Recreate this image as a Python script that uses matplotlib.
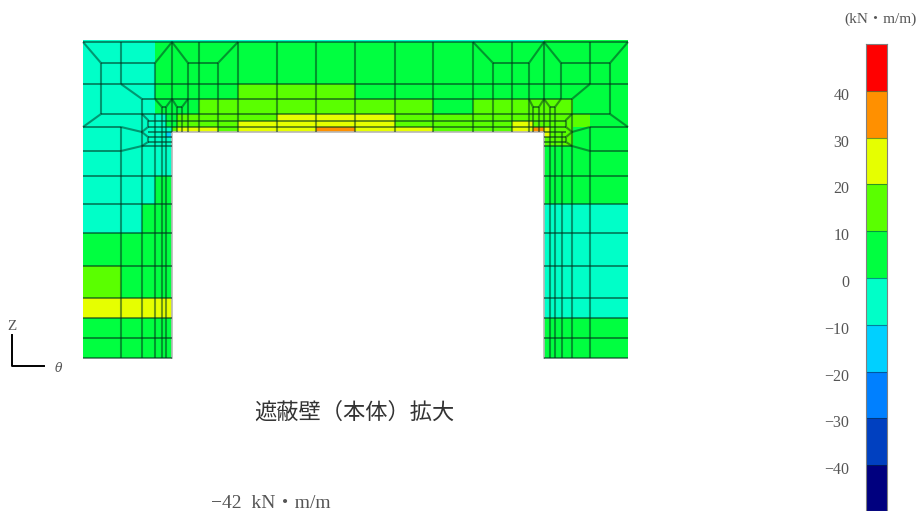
import numpy as np
import matplotlib.pyplot as plt
from matplotlib.collections import LineCollection
from matplotlib.colors import ListedColormap, BoundaryNorm
from matplotlib.transforms import ScaledTranslation

# colour bands of the moment scale (kN m/m)
levels = [-50, -40, -30, -20, -10, 0, 10, 20, 30, 40, 50]
band_colors = ['#00007f', '#0040c0', '#0080ff', '#00d0ff', '#00ffc8',
               '#00ff40', '#5aff00', '#e6ff00', '#ff9000', '#ff0000']
tick_values = [40, 30, 20, 10, 0, -10, -20, -30, -40]
code_values = {'c': -15, 'a': -5, 'g': 5, 'l': 15, 'y': 25, 'o': 35, '.': np.nan}

# mesh columns and rows, in drawing units of the wall view
x_edges = [83, 121, 142, 155, 162, 166, 172, 177, 182, 188, 199, 218, 238, 277, 316, 355,
           395, 433, 473, 493, 512, 529, 533, 539, 544, 550, 555, 562, 573, 590, 610, 628]
y_edges = [40.5, 42, 84, 99, 114, 121, 127, 132, 137, 146, 151, 176, 204, 233, 266, 298, 318, 338, 358]

cell_rows = [
    'a' * 24 + 'g' * 7,
    'aaa' + 'g' * 28,
    'aaa' + 'g' * 9 + 'lll' + 'g' * 16,
    'aaa' + 'g' * 7 + 'l' * 7 + 'g' + 'l' * 10 + 'ggg',
    'aaaaa' + 'gg' + 'l' * 6 + 'yyy' + 'l' * 13 + 'gg',
    'aaaaa' + 'gg' + 'l' * 5 + 'yyyy' + 'llll' + 'yy' + 'l' * 7 + 'gg',
    'aaaaaa' + 'l' + 'yyyy' + 'l' + 'yy' + 'o' + 'yy' + 'lll' + 'yy' + 'oo' + 'y' + 'lll' + 'ggg',
    'aaaaac' + '.' * 18 + 'y' + 'lll' + 'ggg',
    'aaaaaa' + '.' * 18 + 'llll' + 'ggg',
    'aaaaaa' + '.' * 18 + 'g' * 7,
    'aaaaaa' + '.' * 18 + 'g' * 7,
    'aaaggg' + '.' * 18 + 'g' * 7,
    'aagggg' + '.' * 18 + 'a' * 7,
    'gggggg' + '.' * 18 + 'a' * 7,
    'lggggg' + '.' * 18 + 'a' * 7,
    'yyyyyy' + '.' * 18 + 'a' * 7,
    'gggggg' + '.' * 18 + 'g' * 7,
    'gggggg' + '.' * 18 + 'g' * 7,
]

# mesh lines: (y, x from, x to)
h_lines = [(42, 83, 628), (84, 83, 628), (99, 142, 572), (114, 101, 610), (121, 148, 566),
           (127, 148, 566), (127, 83, 121), (127, 590, 628), (132, 148, 172), (132, 544, 566),
           (137, 148, 172), (137, 544, 566), (142, 148, 172), (142, 544, 566), (146, 142, 172),
           (146, 544, 572), (151, 83, 121), (151, 590, 628), (63, 101, 155), (63, 188, 218),
           (63, 493, 529), (63, 561, 610), (107, 162, 166), (107, 177, 182), (107, 533, 539),
           (107, 550, 555), (176, 83, 172), (176, 544, 628), (204, 83, 172), (204, 544, 628),
           (233, 83, 172), (233, 544, 628), (266, 83, 172), (266, 544, 628), (298, 83, 172),
           (298, 544, 628), (318, 83, 172), (318, 544, 628), (338, 83, 172), (338, 544, 628),
           (358, 83, 172), (358, 544, 628)]
# mesh lines: (x, y from, y to)
v_lines = [(101, 63, 114), (121, 42, 84), (121, 127, 358), (142, 99, 358), (155, 63, 99),
           (155, 114, 358), (162, 107, 358), (166, 107, 358), (172, 42, 132), (177, 107, 132),
           (182, 107, 132), (188, 63, 132), (199, 42, 132), (218, 63, 132), (238, 42, 132),
           (277, 42, 132), (316, 42, 132), (355, 42, 132), (395, 42, 132), (433, 42, 132),
           (473, 42, 132), (493, 63, 132), (512, 42, 132), (529, 63, 132), (533, 107, 132),
           (539, 107, 132), (544, 42, 132), (550, 107, 358), (555, 107, 358), (561, 63, 99),
           (562, 132, 358), (572, 99, 358), (590, 42, 84), (590, 127, 358), (610, 63, 114)]
# sloped mesh lines: list of vertices
sloped_lines = [
    [(83, 42), (101, 63)], [(155, 63), (172, 42), (188, 63)], [(218, 63), (238, 42)],
    [(473, 42), (493, 63)], [(529, 63), (544, 42), (561, 63)], [(610, 63), (628, 42)],
    [(101, 114), (83, 127)], [(121, 84), (142, 99)], [(121, 127), (142, 132)], [(121, 151), (142, 146)],
    [(142, 114), (148, 120), (148, 127), (142, 132), (148, 137), (148, 142), (142, 146)],
    [(155, 99), (162, 107)], [(166, 107), (172, 99), (177, 107)], [(182, 107), (188, 99)],
    [(529, 99), (533, 107)], [(539, 107), (544, 99), (550, 107)], [(555, 107), (561, 99)],
    [(572, 99), (590, 84)], [(610, 114), (628, 127)], [(572, 132), (590, 127)], [(572, 146), (590, 151)],
    [(572, 114), (566, 120), (566, 127), (572, 132), (566, 137), (566, 142), (572, 146)],
]
opening_outline = [(172, 358), (172, 132), (544, 132), (544, 358)]

cell_values = np.array([[code_values[c] for c in row] for row in cell_rows])

cmap = ListedColormap(band_colors)
norm = BoundaryNorm(levels, cmap.N)
serif = ['Liberation Serif', 'Noto Sans CJK JP']
text_color = '#555555'
line_color = '#00301c'

fig = plt.figure(figsize=(9.2, 5.11), dpi=100)
ax = fig.add_axes([0, 0, 1, 1])
ax.set_xlim(0, 920)
ax.set_ylim(511, 0)
ax.axis('off')

ax.pcolormesh(x_edges, y_edges, np.ma.masked_invalid(cell_values), cmap=cmap, norm=norm)

ax.plot(*zip(*opening_outline), color='#b8b8b8', lw=1.2)

# horizontal lines are crisper than the others in the source
h_segments = [[(x0, y), (x1, y)] for y, x0, x1 in h_lines]
v_segments = [[(x, y0), (x, y1)] for x, y0, y1 in v_lines]
ax.add_collection(LineCollection(v_segments + sloped_lines, colors=line_color, linewidths=1.5, alpha=0.5))
ax.add_collection(LineCollection(h_segments, colors=line_color, linewidths=1.1, alpha=0.7))

# axes sign
ax.plot([12, 12, 44], [335, 366, 366], color='black', lw=1.4)
ax.text(12, 327, 'Z', family=serif, fontsize=11, color=text_color, ha='center', va='center')
ax.text(59, 369, 'θ', family='DejaVu Serif', fontsize=9, style='italic', color=text_color,
        ha='center', va='center')

ax.text(354, 412, '遮蔽壁（本体）拡大', family='Noto Sans CJK JP', fontsize=16, color='#333333',
        ha='center', va='center')
ax.text(271, 503, '−42  kN・m/m', family=serif, fontsize=14, color=text_color, ha='center', va='center')
ax.text(881, 19, '(kN・m/m)', family=serif, fontsize=11, color=text_color, ha='center', va='center')

# colour scale, runs past the bottom of the page like the source
cax = fig.add_axes([866 / 920, 0, 21 / 920, 467 / 511])
cax.pcolormesh([0, 1], levels, np.arange(len(band_colors)).reshape(-1, 1) * 10 + levels[0] + 5,
               cmap=cmap, norm=norm)
cax.hlines(levels[1:-1], 0, 1, colors='#003040', linewidths=0.8, alpha=0.5)
cax.set_xlim(0, 1)
cax.set_ylim(-49.8, 50)
cax.set_xticks([])
cax.set_yticks(tick_values)
cax.set_yticklabels([str(v).replace('-', '−') for v in tick_values], family=serif, fontsize=11.5,
                    color=text_color)
cax.tick_params(axis='y', length=0, pad=12)
shift = ScaledTranslation(0, -3 / 100, fig.dpi_scale_trans)
for label in cax.get_yticklabels():
    label.set_transform(label.get_transform() + shift)
for spine in cax.spines.values():
    spine.set_color('#808080')
    spine.set_linewidth(0.8)

plt.savefig('out.png', dpi=100)
